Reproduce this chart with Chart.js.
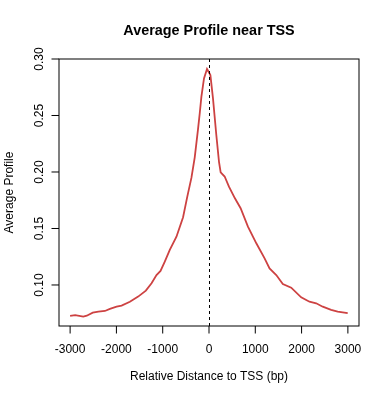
<!DOCTYPE html>
<html>
<head>
<meta charset="utf-8">
<script src="https://cdn.jsdelivr.net/npm/chart.js@4/dist/chart.umd.min.js"></script>
<style>
  html, body { margin: 0; padding: 0; background: #ffffff; }
  #wrap { width: 390px; height: 400px; }
</style>
</head>
<body>
<div id="wrap"><canvas id="c" width="390" height="400"></canvas></div>
<script>
// ---- data ----
const distances = [-3000, -2890, -2716, -2640, -2511, -2390, -2248, -2140, -1996, -1888,
  -1709, -1530, -1364, -1241, -1134, -1047, -955, -847, -703, -560,
  -470, -379, -308, -237, -200, -164, -108, -43, 0, 30,
  86, 158, 216, 252, 338, 431, 560, 683, 841, 1022,
  1201, 1308, 1453, 1595, 1776, 1991, 2170, 2315, 2457, 2638,
  2780, 2996];
const profile = [0.0726, 0.0733, 0.0720, 0.0728, 0.0755, 0.0764, 0.0770, 0.0788, 0.0808, 0.0817,
  0.0852, 0.0897, 0.0950, 0.1015, 0.1088, 0.1124, 0.1206, 0.1310, 0.1427, 0.1600,
  0.1780, 0.1950, 0.2130, 0.2380, 0.2520, 0.2667, 0.2828, 0.2912, 0.2880, 0.2858,
  0.2652, 0.2327, 0.2090, 0.1997, 0.1960, 0.1870, 0.1767, 0.1679, 0.1516, 0.1369,
  0.1236, 0.1147, 0.1088, 0.1009, 0.0976, 0.0891, 0.0852, 0.0838, 0.0808, 0.0779,
  0.0764, 0.0750];
const xTicks = [-3000, -2000, -1000, 0, 1000, 2000, 3000];
const yTicks = [0.10, 0.15, 0.20, 0.25, 0.30];
const yTickLabels = ["0.10", "0.15", "0.20", "0.25", "0.30"];
const titleText = "Average Profile near TSS";
const xLabel = "Relative Distance to TSS (bp)";
const yLabel = "Average Profile";

const points = distances.map((d, i) => ({ x: d, y: profile[i] }));

const FONT = '"Liberation Sans", Arial, Helvetica, sans-serif';

const rAxes = {
  id: 'rAxes',
  afterDatasetsDraw(chart) {
    const ctx = chart.ctx;
    const xs = chart.scales.x, ys = chart.scales.y;
    const a = chart.chartArea;
    ctx.save();
    // dashed TSS line
    const x0 = Math.round(xs.getPixelForValue(0)) + 0.5;
    ctx.strokeStyle = '#000';
    ctx.lineWidth = 1;
    ctx.setLineDash([3, 3]);
    ctx.beginPath();
    ctx.moveTo(x0, a.top);
    ctx.lineTo(x0, a.bottom);
    ctx.stroke();
    ctx.setLineDash([]);
    // box
    ctx.strokeStyle = '#000';
    ctx.lineWidth = 1;
    ctx.strokeRect(a.left, a.top, a.right - a.left, a.bottom - a.top);
    // x ticks
    ctx.fillStyle = '#000';
    ctx.font = '12px ' + FONT;
    ctx.textAlign = 'center';
    ctx.textBaseline = 'alphabetic';
    xTicks.forEach(v => {
      const px = xs.getPixelForValue(v);
      ctx.beginPath();
      ctx.moveTo(px, a.bottom);
      ctx.lineTo(px, a.bottom + 7.5);
      ctx.stroke();
      ctx.fillText(String(v), px, 352.5);
    });
    // y ticks
    yTicks.forEach((v, i) => {
      const py = ys.getPixelForValue(v);
      ctx.beginPath();
      ctx.moveTo(a.left, py);
      ctx.lineTo(a.left - 7.5, py);
      ctx.stroke();
      ctx.save();
      ctx.translate(42.7, py);
      ctx.rotate(-Math.PI / 2);
      ctx.textAlign = 'center';
      ctx.fillText(yTickLabels[i], 0, 0);
      ctx.restore();
    });
    // axis titles
    ctx.textAlign = 'center';
    ctx.fillText(xLabel, (a.left + a.right) / 2, 380);
    ctx.save();
    ctx.translate(13, (a.top + a.bottom) / 2);
    ctx.rotate(-Math.PI / 2);
    ctx.fillText(yLabel, 0, 0);
    ctx.restore();
    // title
    ctx.font = 'bold 14.4px ' + FONT;
    ctx.fillText(titleText, (a.left + a.right) / 2, 34.5);
    ctx.restore();
  }
};

new Chart(document.getElementById('c'), {
  type: 'scatter',
  data: {
    datasets: [{
      data: points,
      showLine: true,
      borderColor: '#CD4242',
      borderWidth: 1.8,
      pointRadius: 0,
      tension: 0,
      fill: false
    }]
  },
  options: {
    responsive: false,
    animation: false,
    devicePixelRatio: 1,
    layout: { padding: { left: 59, top: 59, right: 31, bottom: 74 } },
    plugins: { legend: { display: false }, tooltip: { enabled: false }, title: { display: false } },
    scales: {
      x: { type: 'linear', display: false, min: -3240, max: 3240 },
      y: { type: 'linear', display: false, min: 0.0637, max: 0.30 }
    }
  },
  plugins: [rAxes]
});
</script>
</body>
</html>
